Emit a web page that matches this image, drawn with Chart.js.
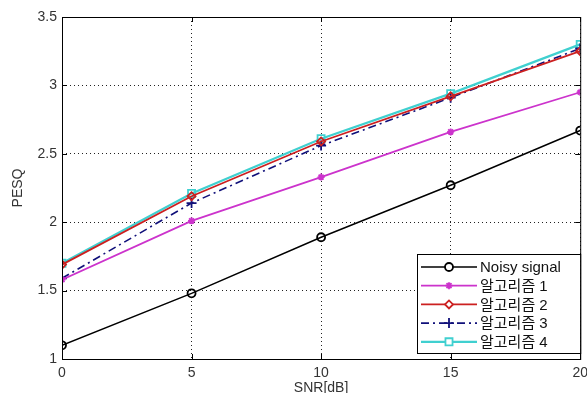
<!DOCTYPE html>
<html>
<head>
<meta charset="utf-8">
<script src="https://cdn.jsdelivr.net/npm/chart.js@4"></script>
<style>
  html, body { margin: 0; padding: 0; background: #fff; }
  #wrap { width: 587px; height: 393px; }
</style>
</head>
<body>
<div id="wrap"><canvas id="c"></canvas></div>
<script>
const snr = [0, 5, 10, 15, 20];
const noisy = [1.10, 1.48, 1.89, 2.27, 2.67];
const alg1 = [1.58, 2.01, 2.33, 2.66, 2.95];
const alg2 = [1.69, 2.19, 2.59, 2.92, 3.25];
const alg3 = [1.59, 2.14, 2.56, 2.91, 3.27];
const alg4 = [1.70, 2.21, 2.61, 2.94, 3.30];
const xTicks = [0, 5, 10, 15, 20];
const yTicks = [1, 1.5, 2, 2.5, 3, 3.5];
const names = ['Noisy signal', '알고리즘 1', '알고리즘 2', '알고리즘 3', '알고리즘 4'];

const FONT = "'Liberation Sans', Arial, 'Noto Sans CJK KR', sans-serif";

const series = [
  { data: noisy, color: '#000000', style: 'circle', radius: 4, width: 1.5, dash: [] },
  { data: alg1, color: '#cc33cc', style: 'star', radius: 3.5, width: 1.8, dash: [] },
  { data: alg2, color: '#cc2020', style: 'rectRot', radius: 4, width: 1.8, dash: [] },
  { data: alg3, color: '#10107a', style: 'cross', radius: 5, width: 1.6, dash: [8, 4, 2, 4] },
  { data: alg4, color: '#40d0d0', style: 'rect', radius: 5, width: 2.2, dash: [] },
];

const datasets = series.map((s, i) => ({
  label: names[i],
  data: snr.map((x, j) => ({ x, y: s.data[j] })),
  borderColor: s.color,
  backgroundColor: 'rgba(0,0,0,0)',
  borderWidth: s.width,
  borderDash: s.dash,
  pointStyle: s.style,
  pointRadius: s.radius,
  pointBorderColor: s.color,
  pointBorderWidth: 1.8,
  pointBackgroundColor: 'rgba(0,0,0,0)',
  tension: 0,
}));

// frame + inward ticks + legend drawn inside the plot, matlab style
const matlabFrame = {
  id: 'matlabFrame',
  afterDatasetsDraw(chart) {
    const { ctx, chartArea: a, scales } = chart;
    ctx.save();
    ctx.strokeStyle = '#000';
    ctx.lineWidth = 1;
    ctx.setLineDash([]);
    ctx.strokeRect(a.left + 0.5, a.top + 0.5, a.right - a.left, a.bottom - a.top);
    ctx.beginPath();
    xTicks.forEach(v => {
      const px = Math.round(scales.x.getPixelForValue(v)) + 0.5;
      ctx.moveTo(px, a.bottom); ctx.lineTo(px, a.bottom - 5);
      ctx.moveTo(px, a.top); ctx.lineTo(px, a.top + 5);
    });
    yTicks.forEach(v => {
      const py = Math.round(scales.y.getPixelForValue(v)) + 0.5;
      ctx.moveTo(a.left, py); ctx.lineTo(a.left + 5, py);
      ctx.moveTo(a.right, py); ctx.lineTo(a.right - 5, py);
    });
    ctx.stroke();

    // legend box
    const bx = 417, by = 254, bw = a.right - 417, bh = 99;
    ctx.fillStyle = '#fff';
    ctx.fillRect(bx, by, bw, bh);
    ctx.strokeRect(bx + 0.5, by + 0.5, bw, bh);
    ctx.font = '15px ' + FONT;
    ctx.textBaseline = 'middle';
    series.forEach((s, i) => {
      const y = by + 13 + i * 18.7;
      ctx.strokeStyle = s.color;
      ctx.lineWidth = s.width;
      ctx.setLineDash(s.dash);
      ctx.beginPath();
      ctx.moveTo(421, y); ctx.lineTo(477, y);
      ctx.stroke();
      ctx.setLineDash([]);
      ctx.lineWidth = 1.8;
      ctx.fillStyle = '#fff';
      Chart.helpers.drawPoint(ctx, { pointStyle: s.style, radius: s.radius, rotation: 0, borderWidth: 1.8 }, 449, y);
      ctx.fillStyle = '#111';
      ctx.fillText(names[i], 480, y + 1);
    });
    ctx.restore();
  }
};

new Chart(document.getElementById('c'), {
  type: 'line',
  data: { datasets },
  plugins: [matlabFrame],
  options: {
    responsive: true,
    maintainAspectRatio: false,
    animation: false,
    layout: { padding: { top: 17, right: 5, left: 0, bottom: 0 } },
    plugins: {
      legend: { display: false },
      tooltip: { enabled: false },
    },
    scales: {
      x: {
        type: 'linear',
        min: 0, max: 20,
        afterBuildTicks: s => { s.ticks = xTicks.map(v => ({ value: v })); },
        afterFit: s => { s.height = 34; s.paddingRight = 0; s.paddingLeft = 0; },
        border: { display: false, dash: [1, 3] },
        grid: { color: '#222', lineWidth: 1, drawTicks: false, borderDash: [1, 3] },
        ticks: { color: '#333', font: { family: FONT, size: 14 }, padding: 6, maxRotation: 0 },
        title: { display: true, text: 'SNR[dB]', color: '#333', font: { family: FONT, size: 14 }, padding: { top: 0, bottom: -4 } },
      },
      y: {
        type: 'linear',
        min: 1, max: 3.5,
        afterBuildTicks: s => { s.ticks = yTicks.map(v => ({ value: v })); },
        afterFit: s => { s.width = 62; },
        border: { display: false, dash: [1, 3] },
        grid: { color: '#222', lineWidth: 1, drawTicks: false, borderDash: [1, 3] },
        ticks: { color: '#333', font: { family: FONT, size: 14 }, padding: 5, callback: v => String(v) },
        title: { display: true, text: 'PESQ', color: '#333', font: { family: FONT, size: 14 }, padding: { top: 10, bottom: 2 } },
      },
    },
  },
});
</script>
</body>
</html>
